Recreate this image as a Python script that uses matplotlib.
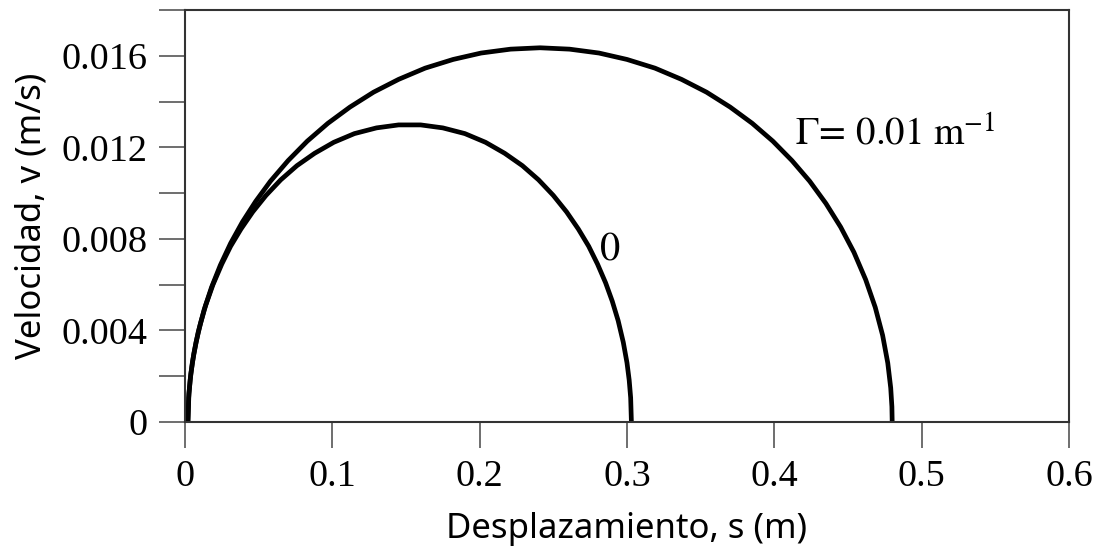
import matplotlib
matplotlib.use("Agg")
import matplotlib.pyplot as plt
from matplotlib.ticker import MultipleLocator

plt.rcParams["mathtext.fontset"] = "stix"

# curve with Gamma = 0
s_zero = [0.002, 0.0025, 0.0035, 0.005, 0.0075, 0.0105, 0.014, 0.019, 0.025,
          0.031, 0.038, 0.046, 0.055, 0.065, 0.076, 0.088, 0.101, 0.115, 0.130,
          0.145, 0.160, 0.175, 0.190, 0.204, 0.217, 0.229, 0.240, 0.250, 0.259,
          0.267, 0.274, 0.280, 0.2855, 0.290, 0.294, 0.2975, 0.300, 0.3015,
          0.3025, 0.303]
v_zero = [0.0, 0.00106, 0.00183, 0.00259, 0.00348, 0.0043, 0.00509, 0.0060,
          0.0069, 0.00768, 0.00843, 0.00918, 0.0099, 0.01058, 0.0112, 0.01174,
          0.01222, 0.0126, 0.01285, 0.01298, 0.01298, 0.01285, 0.0126, 0.01222,
          0.01174, 0.0112, 0.01058, 0.0099, 0.00918, 0.00843, 0.00768, 0.0069,
          0.00608, 0.00528, 0.00443, 0.00348, 0.00259, 0.00183, 0.00106, 0.0]

# curve with Gamma = 0.01 m^-1
s_gamma = [0.002, 0.0027, 0.004, 0.006, 0.009, 0.013, 0.018, 0.024, 0.031,
           0.039, 0.048, 0.058, 0.070, 0.083, 0.097, 0.112, 0.128, 0.145, 0.163,
           0.182, 0.201, 0.221, 0.241, 0.261, 0.281, 0.300, 0.319, 0.337, 0.354,
           0.370, 0.385, 0.399, 0.412, 0.424, 0.435, 0.445, 0.454, 0.462,
           0.4685, 0.4735, 0.477, 0.479, 0.4798, 0.480]
v_gamma = [0.0, 0.00125, 0.00211, 0.00298, 0.00393, 0.0049, 0.00588, 0.00685,
           0.00781, 0.00874, 0.00964, 0.01052, 0.01142, 0.01227, 0.01305,
           0.01376, 0.01441, 0.01497, 0.01546, 0.01584, 0.01612, 0.01629,
           0.01635, 0.01629, 0.01612, 0.01584, 0.01546, 0.01497, 0.01441,
           0.01376, 0.01305, 0.01227, 0.01142, 0.01052, 0.00955, 0.00852,
           0.00742, 0.00622, 0.00501, 0.00379, 0.00258, 0.00149, 0.00067, 0.0]

x_ticks = [0, 0.1, 0.2, 0.3, 0.4, 0.5, 0.6]
x_labels = ["0", "0.1", "0.2", "0.3", "0.4", "0.5", "0.6"]
y_ticks = [0, 0.004, 0.008, 0.012, 0.016]
y_labels = ["0", "0.004", "0.008", "0.012", "0.016"]

fig = plt.figure(figsize=(10.99, 5.5), dpi=100)
ax = fig.add_axes([0.1683, 0.2327, 0.8044, 0.7491])

ax.plot(s_gamma, v_gamma, color="black", lw=3.4, solid_capstyle="butt",
        solid_joinstyle="round")
ax.plot(s_zero, v_zero, color="black", lw=3.4, solid_capstyle="butt",
        solid_joinstyle="round")

ax.set_xlim(0, 0.6)
ax.set_ylim(0, 0.018)
ax.set_xticks(x_ticks)
ax.set_xticklabels(x_labels, family="Liberation Serif", fontsize=27.5)
ax.set_yticks(y_ticks)
ax.set_yticklabels(y_labels, family="Liberation Serif", fontsize=27.5)
ax.yaxis.set_minor_locator(MultipleLocator(0.002))
ax.tick_params(axis="both", which="both", direction="out", length=19,
               width=1.2, color="#555555", pad=8)

for sp in ax.spines.values():
    sp.set_color("#333333")
    sp.set_linewidth(1.5)

ax.text(0.414, 0.0121, r"$\Gamma\!=\,0.01\ \mathrm{m}^{-1}$", fontsize=28,
        ha="left", va="baseline")
ax.text(0.2885, 0.0076, r"$0$", fontsize=29, ha="center", va="center")

ax.set_xlabel("Desplazamiento, s (m)", family="Noto Sans", fontsize=25,
              labelpad=13)
ax.set_ylabel("Velocidad, v (m/s)", family="Noto Sans", fontsize=25,
              labelpad=9)

fig.savefig("out.png", dpi=100)
